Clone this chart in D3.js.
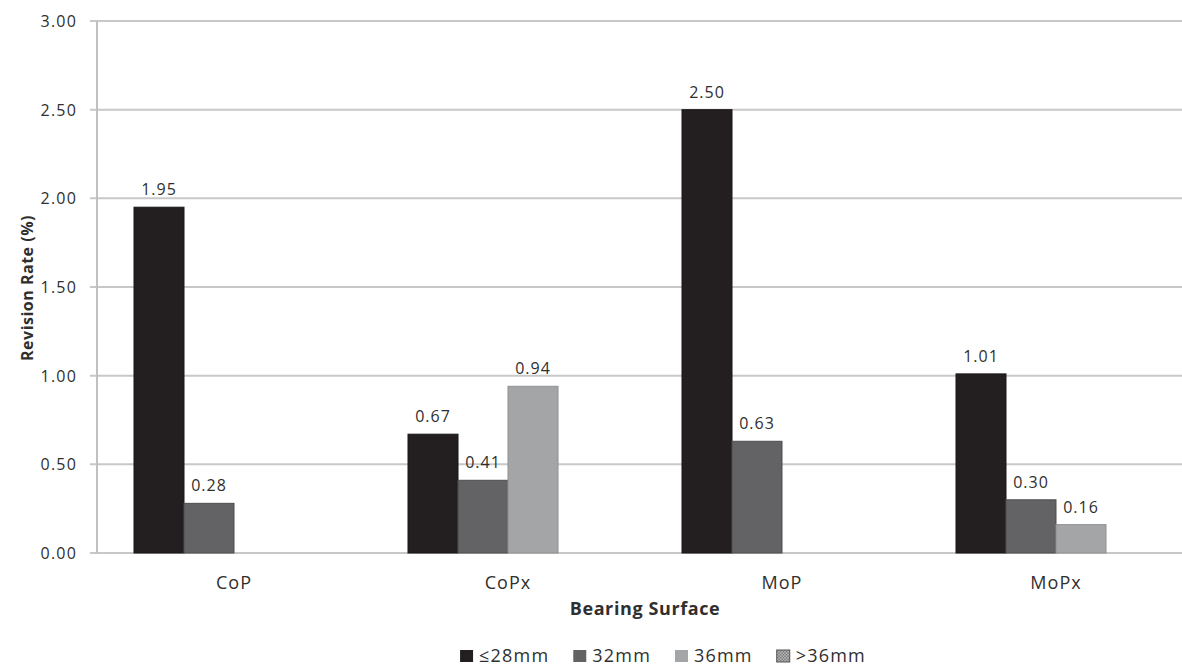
<!DOCTYPE html>
<html>
<head>
<meta charset="utf-8">
<script src="https://cdn.jsdelivr.net/npm/d3@7.9.0/dist/d3.min.js"></script>
<style>
  body { margin: 0; background: #fff; }
  text { font-family: "Open Sans", sans-serif; fill: #2f2f2f; }
</style>
</head>
<body>
<svg id="chart" width="1182" height="666"></svg>
<script>
const categories = ['CoP', 'CoPx', 'MoP', 'MoPx'];
const series = ['≤28mm', '32mm', '36mm', '>36mm'];
// one list per series, null = no bar
const le28 = [1.95, 0.67, 2.50, 1.01];
const mm32 = [0.28, 0.41, 0.63, 0.30];
const mm36 = [null, 0.94, null, 0.16];
const gt36 = [null, null, null, null];
const yTicks = [0, 0.5, 1, 1.5, 2, 2.5, 3];
const colors = ['#231f20', '#636365', '#a4a5a7', 'url(#dots)'];
const strokes = ['#1a1718', '#4f4f51', '#8f9092', '#555555'];

const values = [le28, mm32, mm36, gt36];

const svg = d3.select('#chart');

// dotted fill for >36mm
const pat = svg.append('defs').append('pattern')
  .attr('id', 'dots').attr('width', 3).attr('height', 3)
  .attr('patternUnits', 'userSpaceOnUse');
pat.append('rect').attr('width', 3).attr('height', 3).attr('fill', '#c9c9c9');
pat.append('rect').attr('width', 1.5).attr('height', 1.5).attr('fill', '#6a6a6a');
pat.append('rect').attr('x', 1.5).attr('y', 1.5).attr('width', 1.5).attr('height', 1.5).attr('fill', '#6a6a6a');

const plotLeft = 97, plotRight = 1193, plotTop = 21, plotBottom = 553;

let x0 = d3.scaleBand().domain(categories).range([plotLeft, plotRight]);
let x1 = d3.scaleBand().domain(series).range([0, x0.bandwidth()])
  .paddingInner(0).paddingOuter(0.74);
let y = d3.scaleLinear().domain([0, 3]).range([plotBottom, plotTop]);

// grid lines
svg.append('g')
  .selectAll('line')
  .data(yTicks)
  .join('line')
  .attr('x1', plotLeft - 7)
  .attr('x2', 1182)
  .attr('y1', (d) => y(d))
  .attr('y2', (d) => y(d))
  .attr('stroke', '#c8c8c8')
  .attr('stroke-width', 2);

// y axis line
svg.append('line')
  .attr('x1', plotLeft).attr('x2', plotLeft)
  .attr('y1', plotTop).attr('y2', plotBottom)
  .attr('stroke', '#c0c0c0').attr('stroke-width', 2);

// y tick labels
svg.append('g')
  .selectAll('text')
  .data(yTicks)
  .join('text')
  .attr('x', 77)
  .attr('y', (d) => y(d) + 6)
  .attr('text-anchor', 'end')
  .attr('font-size', 16)
  .attr('letter-spacing', 1.2)
  .text((d) => d3.format('.2f')(d));

// bars
categories.forEach((cat, ci) => {
  let g = svg.append('g').attr('transform', `translate(${x0(cat)},0)`);
  series.forEach((s, si) => {
    let v = values[si][ci];
    if (v == null) return;
    g.append('rect')
      .attr('x', x1(s))
      .attr('y', y(v))
      .attr('width', x1.bandwidth())
      .attr('height', plotBottom - y(v))
      .attr('fill', colors[si])
      .attr('stroke', strokes[si])
      .attr('stroke-width', 1);
    g.append('text')
      .attr('x', x1(s) + x1.bandwidth() / 2)
      .attr('y', y(v) - 12)
      .attr('text-anchor', 'middle')
      .attr('font-size', 16)
      .attr('letter-spacing', 1)
      .text(d3.format('.2f')(v));
  });
});

// category labels
svg.append('g')
  .selectAll('text')
  .data(categories)
  .join('text')
  .attr('x', (d) => x0(d) + x0.bandwidth() / 2)
  .attr('y', 589)
  .attr('text-anchor', 'middle')
  .attr('font-size', 18)
  .attr('letter-spacing', 1)
  .text((d) => d);

// axis titles
svg.append('text')
  .attr('x', 645).attr('y', 615)
  .attr('text-anchor', 'middle')
  .attr('font-size', 18)
  .attr('font-weight', 'bold')
  .attr('letter-spacing', 0.6)
  .text('Bearing Surface');

svg.append('text')
  .attr('transform', 'translate(33,288) rotate(-90)')
  .attr('text-anchor', 'middle')
  .attr('font-size', 16)
  .attr('font-weight', 'bold')
  .attr('letter-spacing', 0.5)
  .text('Revision Rate (%)');

// legend
let legend = svg.append('g');
let lx = 0;
series.forEach((s, si) => {
  let item = legend.append('g').attr('transform', `translate(${lx},0)`);
  item.append('rect')
    .attr('x', 0).attr('y', 650)
    .attr('width', 13).attr('height', 12)
    .attr('fill', colors[si])
    .attr('stroke', si === 3 ? '#555' : 'none');
  let t = item.append('text')
    .attr('x', 19).attr('y', 662)
    .attr('font-size', 18)
    .attr('letter-spacing', 1.2)
    .text(s);
  lx += 19 + t.node().getComputedTextLength() + 24;
});
let legendWidth = lx - 24;
legend.attr('transform', `translate(${663 - legendWidth / 2},0)`);
</script>
</body>
</html>
